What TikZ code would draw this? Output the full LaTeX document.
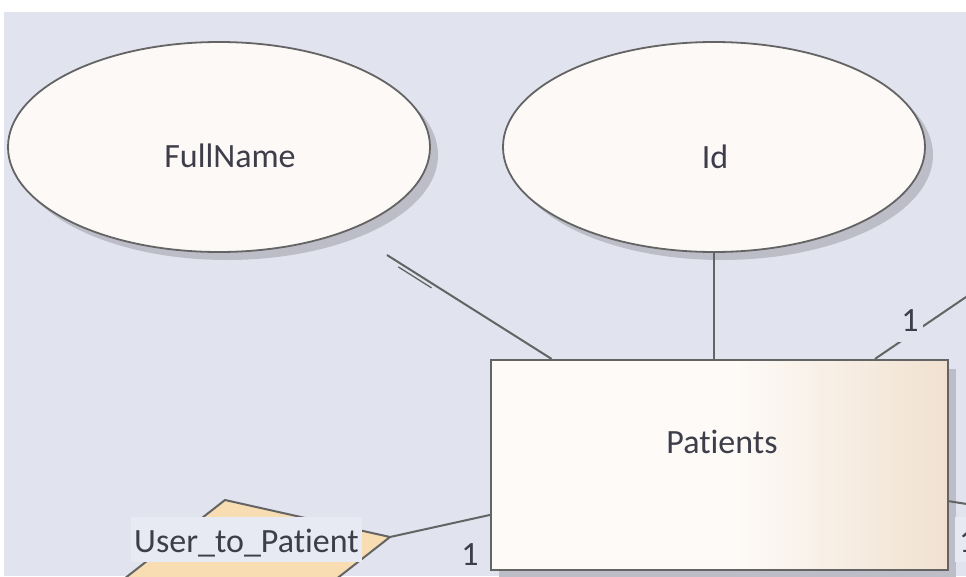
\documentclass[tikz,border=0pt]{standalone}
\usepackage{fontspec}
\setmainfont{Carlito}[Ligatures={NoCommon}]
\usetikzlibrary{calc,shapes.geometric}

\definecolor{canvas}{HTML}{E1E3EF}
\definecolor{labelbg}{HTML}{E7E9F3}
\definecolor{edge}{HTML}{646464}
\definecolor{shadowc}{HTML}{BCBDC7}
\definecolor{attrfill}{HTML}{FCF9F6}
\definecolor{entleft}{HTML}{FDFAF7}
\definecolor{entright}{HTML}{F1E1D0}
\definecolor{relfill}{HTML}{F8DDB3}
\definecolor{ink}{HTML}{3E3E4A}

% entity fill: plain on the left, warming towards the right edge
\pgfdeclarehorizontalshading{entityshade}{100bp}{color(0bp)=(entleft); color(52bp)=(entleft); color(75bp)=(entright); color(100bp)=(entright)}

\begin{document}
\begin{tikzpicture}[x=1pt,y=-1pt,
  txt/.style={font=\fontsize{34}{40}\selectfont, text=ink, inner sep=0pt, anchor=base},
  attr/.style={ellipse, draw=edge, line width=1.8pt, fill=attrfill, minimum width=422pt, minimum height=210pt, inner sep=0pt},
  attrshadow/.style={ellipse, fill=shadowc, minimum width=422pt, minimum height=210pt, inner sep=0pt},
  entity/.style={rectangle, draw=edge, line width=2.2pt, shade, shading=entityshade, minimum width=457pt, minimum height=210pt, inner sep=0pt},
  entshadow/.style={rectangle, fill=shadowc, minimum width=457pt, minimum height=210pt, inner sep=0pt},
  conn/.style={draw=edge, line width=2pt},
  mult/.style={txt, fill=canvas, inner xsep=4pt, text height=33pt, text depth=11pt},
]
\useasboundingbox (0,0) rectangle (966,576);
\begin{scope}
\clip (0,0) rectangle (966,576);
\fill[white] (0,0) rectangle (966,576);
\fill[canvas] (4,12) rectangle (966,576);

% shadows
\node[attrshadow] (fnsh) at (227,155) {};
\node[attrshadow] (idsh) at (722,155) {};
\node[entshadow] (patsh) at (727.5,474) {};

% attributes
\node[attr] (fn) at (219,147) {};
\node[attr] (id) at (714,147) {};

% relationship
\coordinate (relT) at (225,500);
\coordinate (relR) at (390,537);
\coordinate (relB) at (257,641);
\coordinate (relL) at (92,604);
\filldraw[fill=relfill, draw=edge, line width=2pt, line join=round] (relT) -- (relR) -- (relB) -- (relL) -- cycle;

% entity
\node[entity] (pat) at (719.5,465) {};

% free ends of connectors
\coordinate (fnstub) at (387,255);
\coordinate (offTR) at (990,280.7);
\coordinate (offR) at (990,507.7);

% connectors
\draw[conn] (fnstub) -- (pat);
\draw[conn, line width=1.3pt] ($(fnstub)!0.04!(pat)+(-2,3.5)$) -- ($(fnstub)!0.14!(pat)+(-2,3.5)$);
\draw[conn] (id.south) -- (id.south |- pat.north);
\draw[conn] (offTR) -- (pat);
\draw[conn] (offR) -- (pat);
\draw[conn] (relR) -- (pat);

% texts
\node[txt] (fntxt) at (230,167) {FullName};
\node[txt] (idtxt) at (715,168) {Id};
\node[txt] (pattxt) at (722,453) {Patients};
\node[txt, fill=labelbg, inner xsep=3pt, text height=35pt, text depth=10pt] (reltxt) at (246.5,552) {User\_to\_Patient};
\node[txt] (m1) at (470,565) {1};
\node[mult] (m2) at (910,331) {1};
\node[txt, fill=labelbg, inner xsep=4pt, text height=35pt, text depth=10pt, anchor=base west] (m3) at (955,552) {1};
\end{scope}
\end{tikzpicture}
\end{document}
